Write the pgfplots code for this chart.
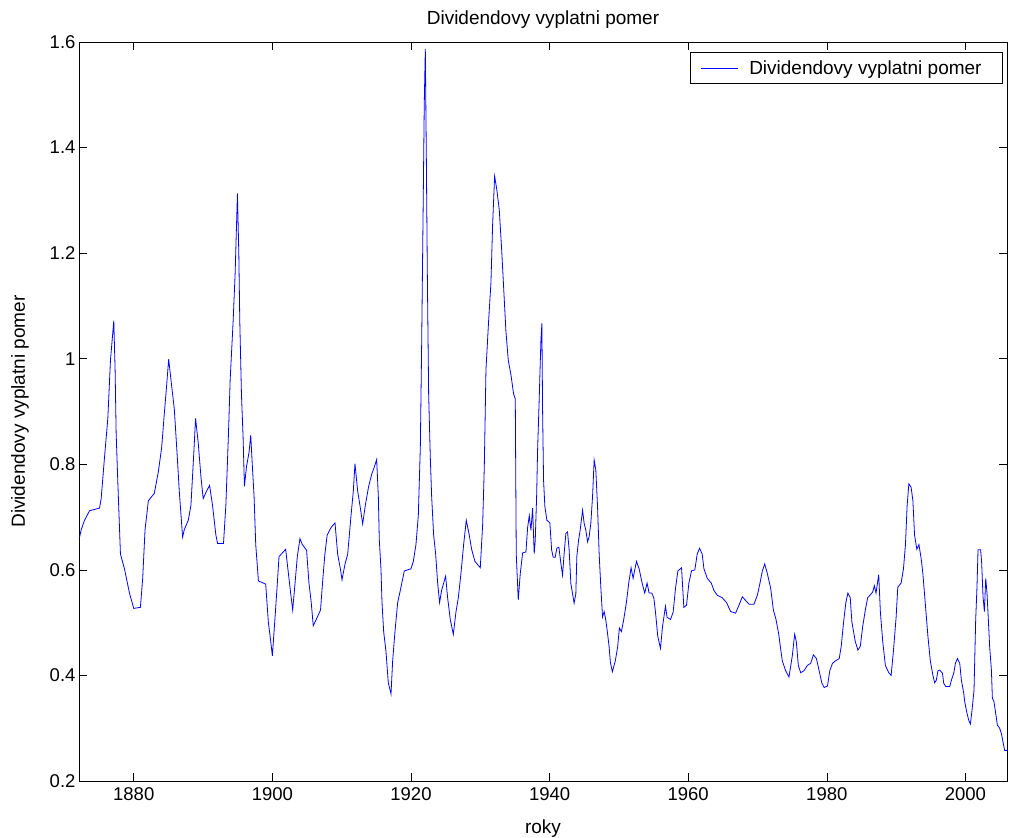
\documentclass[border=0pt]{standalone}
\usepackage{fontspec}
\setmainfont{Liberation Sans}
\usepackage{pgfplots}
\pgfplotsset{compat=1.18}

\begin{document}
\begin{tikzpicture}
\begin{axis}[
    scale only axis,
    width=928pt, height=739pt,
    xmin=1872.1, xmax=2006,
    ymin=0.2, ymax=1.6,
    xtick={1880,1900,...,2000},
    ytick={0.2,0.4,...,1.6},
    /pgf/number format/1000 sep={},
    /pgf/number format/assume math mode=true,
    tick align=inside,
    major tick length=8pt,
    tick style={black, line width=0.6pt},
    axis line style={black, line width=0.8pt},
    ticklabel style={font=\fontsize{18.5}{20}\selectfont},
    xticklabel style={yshift=-3pt},
    title={Dividendovy vyplatni pomer},
    title style={font=\fontsize{19}{22}\selectfont, yshift=4pt},
    xlabel={roky},
    ylabel={Dividendovy vyplatni pomer},
    label style={font=\fontsize{19}{22}\selectfont},
    xlabel style={yshift=-12pt},
    ylabel style={yshift=14pt},
    legend style={at={(1,1)}, anchor=north east, xshift=-4pt, yshift=-10pt,
        draw=black, line width=0.8pt, font=\fontsize{19}{22}\selectfont,
        inner xsep=10pt, inner ysep=4pt,
        nodes={inner xsep=11pt, inner ysep=4pt}},
    legend cell align=left,
    legend image code/.code={\draw[#1, line width=0.7pt] (0pt,0pt) -- (37pt,0pt);},
]
\addplot[color={rgb,255:red,0;green,0;blue,255}, line width=0.8pt] coordinates {
(1872.18,0.662) (1872.42,0.676) (1872.90,0.694) (1873.62,0.712) (1875.06,0.717)
(1875.30,0.735) (1875.78,0.813) (1876.26,0.887) (1876.64,0.997) (1877.12,1.072)
(1877.31,0.979) (1877.46,0.859) (1877.70,0.767) (1878.08,0.630) (1878.66,0.602)
(1879.38,0.556) (1880.00,0.527) (1880.96,0.529) (1881.29,0.584) (1881.63,0.676)
(1882.11,0.731) (1882.97,0.745) (1883.55,0.786) (1884.03,0.832) (1884.41,0.896)
(1884.70,0.942) (1885.04,0.999) (1885.37,0.960) (1885.85,0.905) (1886.24,0.823)
(1886.57,0.749) (1887.05,0.662) (1887.29,0.676) (1887.87,0.694) (1888.25,0.722)
(1888.63,0.813) (1888.92,0.887) (1889.30,0.841) (1889.69,0.777) (1890.02,0.735)
(1890.50,0.749) (1890.94,0.760) (1891.37,0.722) (1891.85,0.666) (1892.09,0.650)
(1892.95,0.650) (1893.29,0.722) (1893.67,0.859) (1893.91,0.960) (1894.34,1.071)
(1894.63,1.162) (1894.96,1.313) (1895.16,1.199) (1895.30,1.071) (1895.54,0.933)
(1895.78,0.850) (1895.97,0.758) (1896.26,0.795) (1896.64,0.823) (1896.88,0.855)
(1897.12,0.795) (1897.36,0.740) (1897.60,0.648) (1897.99,0.579) (1899.04,0.573)
(1899.42,0.501) (1899.76,0.465) (1900.00,0.437) (1900.34,0.501) (1900.72,0.575)
(1900.96,0.625) (1901.92,0.639) (1902.16,0.611) (1902.64,0.556) (1902.93,0.524)
(1903.21,0.565) (1903.60,0.625) (1903.98,0.659) (1904.32,0.648) (1904.94,0.637)
(1905.28,0.575) (1905.61,0.538) (1905.90,0.494) (1906.47,0.510) (1906.95,0.524)
(1907.29,0.584) (1907.58,0.630) (1907.91,0.666) (1908.46,0.680) (1909.04,0.689)
(1909.42,0.630) (1909.81,0.602) (1910.05,0.581) (1910.48,0.611) (1910.87,0.630)
(1911.35,0.703) (1911.68,0.749) (1911.92,0.801) (1912.31,0.749) (1912.64,0.722)
(1913.03,0.687) (1913.41,0.722) (1913.89,0.758) (1914.33,0.781) (1914.71,0.795)
(1915.05,0.809) (1915.29,0.740) (1915.43,0.657) (1915.67,0.602) (1915.82,0.538)
(1916.06,0.483) (1916.39,0.446) (1916.73,0.386) (1917.12,0.365) (1917.36,0.428)
(1917.69,0.483) (1918.08,0.538) (1918.46,0.561) (1919.04,0.598) (1919.52,0.600)
(1920.00,0.602) (1920.34,0.616) (1920.72,0.648) (1921.06,0.703) (1921.35,0.832)
(1921.54,1.025) (1921.73,1.254) (1921.92,1.484) (1922.07,1.587) (1922.21,1.392)
(1922.36,1.162) (1922.55,0.933) (1922.79,0.813) (1922.98,0.740) (1923.27,0.666)
(1923.56,0.630) (1923.85,0.575) (1924.13,0.538) (1924.42,0.561) (1925.00,0.588)
(1925.29,0.547) (1925.67,0.506) (1926.11,0.478) (1926.49,0.520) (1926.83,0.547)
(1927.21,0.593) (1927.60,0.648) (1927.98,0.694) (1928.41,0.666) (1928.75,0.639)
(1929.23,0.616) (1930.00,0.604) (1930.34,0.685) (1930.58,0.795) (1930.82,0.979)
(1931.20,1.071) (1931.54,1.144) (1931.78,1.254) (1932.07,1.346) (1932.40,1.319)
(1932.74,1.282) (1933.08,1.208) (1933.37,1.135) (1933.70,1.052) (1934.04,0.997)
(1934.42,0.970) (1934.81,0.933) (1935.05,0.924) (1935.19,0.630) (1935.48,0.543)
(1935.77,0.593) (1936.11,0.632) (1936.59,0.634) (1936.83,0.680) (1937.07,0.703)
(1937.31,0.675) (1937.55,0.717) (1937.78,0.631) (1937.93,0.656) (1938.13,0.739)
(1938.27,0.827) (1938.50,0.922) (1938.75,1.035) (1938.89,1.067) (1938.99,0.903)
(1939.13,0.770) (1939.32,0.720) (1939.61,0.694) (1940.04,0.689) (1940.29,0.638)
(1940.52,0.624) (1940.81,0.624) (1941.05,0.641) (1941.34,0.643) (1941.63,0.612)
(1941.87,0.590) (1942.10,0.631) (1942.35,0.669) (1942.59,0.672) (1942.82,0.638)
(1943.07,0.574) (1943.31,0.555) (1943.54,0.537) (1943.79,0.555) (1943.93,0.625)
(1944.18,0.656) (1944.41,0.675) (1944.76,0.713) (1944.99,0.688) (1945.23,0.675)
(1945.48,0.653) (1945.71,0.663) (1945.95,0.688) (1946.20,0.739) (1946.43,0.808)
(1946.67,0.789) (1946.92,0.720) (1947.15,0.631) (1947.39,0.568) (1947.64,0.511)
(1947.87,0.521) (1948.11,0.505) (1948.36,0.480) (1948.59,0.454) (1948.77,0.425)
(1949.06,0.407) (1949.49,0.428) (1949.83,0.455) (1950.07,0.490) (1950.36,0.483)
(1950.70,0.506) (1951.08,0.538) (1951.42,0.575) (1951.76,0.604) (1952.05,0.584)
(1952.53,0.616) (1952.92,0.602) (1953.35,0.575) (1953.73,0.556) (1954.07,0.575)
(1954.36,0.556) (1954.75,0.556) (1955.04,0.547) (1955.28,0.520) (1955.61,0.474)
(1956.00,0.451) (1956.29,0.492) (1956.72,0.531) (1956.96,0.510) (1957.45,0.506)
(1957.83,0.520) (1958.17,0.565) (1958.51,0.598) (1959.04,0.604) (1959.37,0.529)
(1959.76,0.533) (1960.10,0.575) (1960.48,0.598) (1960.96,0.600) (1961.30,0.630)
(1961.64,0.641) (1962.02,0.630) (1962.27,0.602) (1962.75,0.584) (1963.33,0.575)
(1963.71,0.561) (1964.19,0.552) (1964.92,0.547) (1965.54,0.538) (1966.12,0.521)
(1966.84,0.518) (1967.33,0.533) (1967.81,0.549) (1968.29,0.542) (1968.77,0.535)
(1969.49,0.535) (1969.98,0.552) (1970.36,0.575) (1970.70,0.598) (1971.04,0.611)
(1971.42,0.593) (1971.90,0.565) (1972.29,0.524) (1972.67,0.506) (1973.06,0.478)
(1973.57,0.428) (1974.06,0.409) (1974.54,0.397) (1975.02,0.437) (1975.36,0.478)
(1975.60,0.464) (1975.89,0.419) (1976.23,0.405) (1976.71,0.409) (1977.20,0.419)
(1977.68,0.423) (1978.07,0.439) (1978.50,0.432) (1978.89,0.409) (1979.28,0.386)
(1979.61,0.377) (1980.10,0.380) (1980.43,0.409) (1980.82,0.423) (1981.30,0.428)
(1981.79,0.432) (1982.08,0.455) (1982.42,0.501) (1982.75,0.538) (1983.04,0.556)
(1983.38,0.547) (1983.62,0.501) (1984.11,0.464) (1984.49,0.448) (1984.83,0.455)
(1985.17,0.492) (1985.56,0.524) (1985.89,0.547) (1986.23,0.552) (1986.62,0.558)
(1986.86,0.570) (1987.10,0.556) (1987.49,0.591) (1987.73,0.520) (1988.07,0.464)
(1988.45,0.419) (1988.94,0.405) (1989.28,0.400) (1989.61,0.446) (1990.00,0.510)
(1990.24,0.567) (1990.72,0.575) (1991.06,0.602) (1991.35,0.648) (1991.59,0.722)
(1991.84,0.763) (1992.17,0.756) (1992.42,0.731) (1992.66,0.666) (1992.99,0.639)
(1993.29,0.648) (1993.62,0.621) (1993.86,0.593) (1994.20,0.538) (1994.59,0.474)
(1994.93,0.428) (1995.31,0.400) (1995.56,0.386) (1995.80,0.391) (1996.04,0.409)
(1996.30,0.410) (1996.69,0.404) (1996.87,0.385) (1997.16,0.379) (1997.74,0.379)
(1997.98,0.391) (1998.31,0.404) (1998.56,0.423) (1998.85,0.432) (1999.18,0.423)
(1999.42,0.391) (1999.76,0.366) (1999.90,0.350) (2000.23,0.328) (2000.48,0.315)
(2000.72,0.308) (2000.95,0.334) (2001.24,0.372) (2001.48,0.505) (2001.67,0.568)
(2001.82,0.638) (2002.20,0.638) (2002.35,0.612) (2002.54,0.549) (2002.74,0.521)
(2002.93,0.584) (2003.12,0.555) (2003.31,0.505) (2003.50,0.454) (2003.75,0.410)
(2003.89,0.357) (2004.12,0.350) (2004.37,0.328) (2004.61,0.306) (2004.94,0.300)
(2005.19,0.290) (2005.42,0.274) (2005.66,0.258) (2006.00,0.258)
};
\addlegendentry{Dividendovy vyplatni pomer}
\end{axis}
\pgfresetboundingbox
\path ([xshift=-79pt,yshift=-57pt]current axis.south west) rectangle ([xshift=3pt,yshift=42pt]current axis.north east);
\end{tikzpicture}
\end{document}
